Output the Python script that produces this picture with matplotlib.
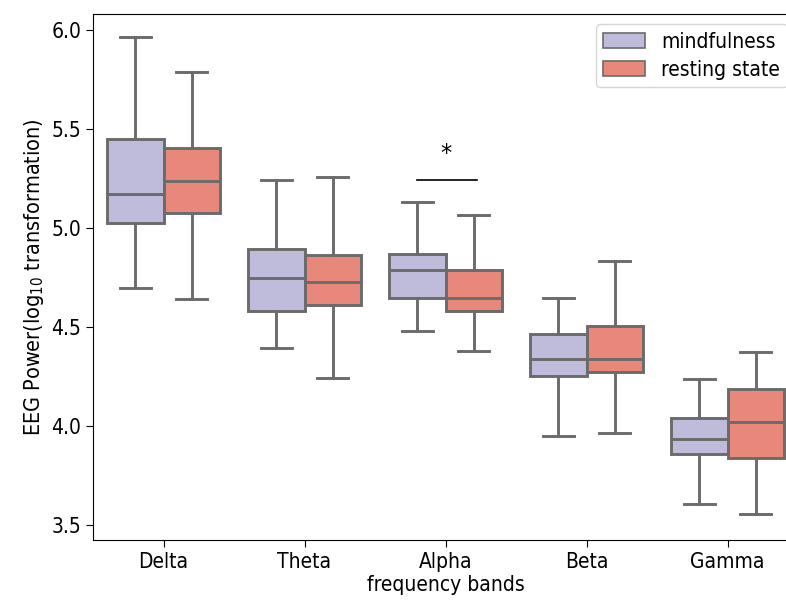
import matplotlib
matplotlib.use("Agg")
import matplotlib.pyplot as plt
from matplotlib.patches import Patch

plt.rcParams["font.family"] = ["DejaVu Sans"]
plt.rcParams["font.stretch"] = "condensed"

bands = ["Delta", "Theta", "Alpha", "Beta", "Gamma"]
groups = ["mindfulness", "resting state"]

# per band: [whislo, q1, median, q3, whishi]
mind_stats = [
    [4.697, 5.025, 5.172, 5.449, 5.966],
    [4.394, 4.581, 4.747, 4.895, 5.242],
    [4.480, 4.646, 4.788, 4.869, 5.131],
    [3.951, 4.253, 4.338, 4.465, 4.646],
    [3.606, 3.859, 3.936, 4.042, 4.237],
]
rest_stats = [
    [4.641, 5.076, 5.237, 5.404, 5.788],
    [4.242, 4.611, 4.729, 4.864, 5.258],
    [4.380, 4.581, 4.646, 4.788, 5.067],
    [3.965, 4.273, 4.338, 4.507, 4.833],
    [3.556, 3.838, 4.020, 4.187, 4.374],
]
colors = ["#bfbbdb", "#e8887a"]
edge = "#6b6b6b"

sig_band = "Alpha"
sig_y = 5.242
sig_text = "*"

fig = plt.figure(figsize=(7.86, 6.04), dpi=100)
ax = fig.add_axes([93/786, 64/604, 705/786, 526/604])

w = 0.4
for gi, (stats_list, col) in enumerate(zip([mind_stats, rest_stats], colors)):
    stats = []
    for s in stats_list:
        stats.append(dict(whislo=s[0], q1=s[1], med=s[2], q3=s[3], whishi=s[4], fliers=[]))
    pos = [i - w/2 + gi*w for i in range(len(bands))]
    ax.bxp(stats, positions=pos, widths=w, patch_artist=True, showfliers=False,
           boxprops=dict(facecolor=col, edgecolor=edge, linewidth=2.1),
           medianprops=dict(color=edge, linewidth=2.1),
           whiskerprops=dict(color=edge, linewidth=2.1),
           capprops=dict(color=edge, linewidth=2.1),
           capwidths=0.22, manage_ticks=False)

xi = bands.index(sig_band)
ax.plot([xi - 0.2, xi + 0.22], [sig_y, sig_y], color="black", linewidth=1.2)
ax.text(xi, sig_y + 0.07, sig_text, ha="center", va="bottom", fontsize=18)

ax.set_xlim(-0.5, len(bands) - 0.5)
ax.set_ylim(3.424, 6.08)
ax.set_xticks(range(len(bands)))
ax.set_xticklabels(bands)
ax.set_yticks([3.5, 4.0, 4.5, 5.0, 5.5, 6.0])
ax.tick_params(labelsize=15, length=5)
ax.set_xlabel("frequency bands", fontsize=15, labelpad=2)
ax.set_ylabel("EEG Power(log$_{10}$ transformation)", fontsize=15.5)

handles = [Patch(facecolor=c, edgecolor=edge, linewidth=1.2, label=g) for c, g in zip(colors, groups)]
ax.legend(handles=handles, loc="upper right", fontsize=15, handlelength=2.0,
          borderpad=0.35, labelspacing=0.4)

fig.savefig("out.png", dpi=100)
